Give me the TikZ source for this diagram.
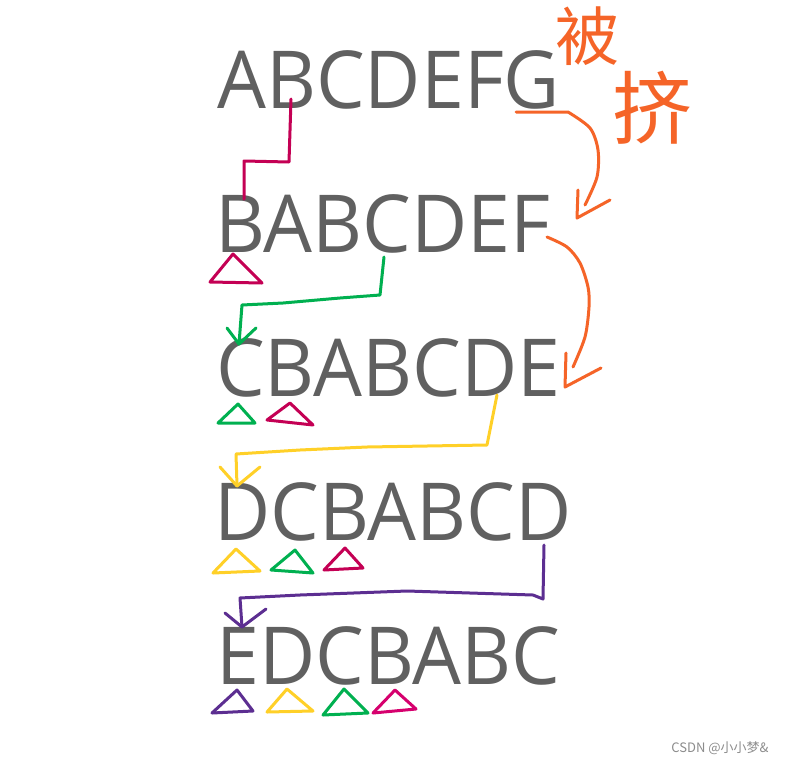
\documentclass[tikz,border=0pt]{standalone}
\usepackage{fontspec}
\setmainfont[FakeStretch=0.965]{Open Sans}
\newfontfamily\cjk{Noto Sans CJK SC}
\usepackage{tikz}
\usetikzlibrary{arrows.meta}
\usepackage{xcolor}
\definecolor{letter}{RGB}{96, 96, 96}
\definecolor{crimson}{RGB}{196, 0, 84}
\definecolor{leaf}{RGB}{0, 176, 80}
\definecolor{sun}{RGB}{255, 208, 40}
\definecolor{grape}{RGB}{92, 46, 145}
\definecolor{carrot}{RGB}{245, 100, 40}
\definecolor{rose}{RGB}{214, 0, 110}
\definecolor{mark}{RGB}{140, 140, 140}

\begin{document}
\begin{tikzpicture}
        [x=1pt, y=-1pt,
        letters/.style = {text=letter, font=\fontsize{80}{96}\selectfont, inner sep=0pt, anchor=base west},
        pen/.style = {draw=#1, line width=3pt, line cap=round, line join=round},
        scrawl/.style = {text=carrot, inner sep=0pt, font=\cjk\fontsize{#1}{#1}\selectfont}]
        \fill[white] (0,0) rectangle (795,766);
        \useasboundingbox (0,0) rectangle (795,766);

        \node[letters] (row1) at (217,108) {ABCDEFG};
        \node[letters] (row2) at (215,252) {BABCDEF};
        \node[letters] (row3) at (216,396) {CBABCDE};
        \node[letters] (row4) at (214,540) {DCBABCD};
        \node[letters] (row5) at (216,684) {EDCBABC};

        \node[scrawl=64] (bei) at (587,36) {被};
        \node[scrawl=80] (ji) at (652,108) {挤};

        \node[text=mark, inner sep=0pt, font=\cjk\fontsize{13}{13}\selectfont] (credit) at (720,748) {CSDN @小小梦\&};

        % ends of the hand drawn lines
        \coordinate (a1) at (291,99);
        \coordinate (a2) at (244,199);
        \coordinate (b1) at (384,257);
        \coordinate (b2) at (239,344);
        \coordinate (c1) at (497,395);
        \coordinate (c2) at (237,486);
        \coordinate (d1) at (544,545);
        \coordinate (d2) at (242,627);
        \coordinate (e1) at (516,112);
        \coordinate (e2) at (585,205);
        \coordinate (f1) at (547,237);
        \coordinate (f2) at (573,367);

        \draw[pen=crimson] (a1) -- (289,162) -- (244,161) -- (a2);

        \draw[pen=leaf] (b1) -- (380,295) -- (340,298) -- (283,303) -- (242,305) -- (b2);
        \draw[pen=leaf] (227,328) -- (b2) -- (256,328);

        \draw[pen=sun] (c1) -- (487,445) -- (367,447) -- (300,450) -- (236,454) -- (c2);
        \draw[pen=sun] (220,467) -- (c2) -- (260,467);

        \draw[pen=grape] (d1) -- (543,599) -- (533,595) -- (407,591) -- (300,595) -- (240,598) -- (d2);
        \draw[pen=grape] (225,613) -- (d2) -- (266,609);

        \draw[pen=carrot] (e1) -- plot[smooth] coordinates {(568,112) (590,128) (598,150) (597,177) (e2)};
        \draw[pen=carrot] (578,190) -- (577,218) -- (610,200);

        \draw[pen=carrot] plot[smooth] coordinates {(f1) (567,247) (580,263) (588,287) (589,307) (585,337) (f2)};
        \draw[pen=carrot] (566,353) -- (565,387) -- (601,368);

        % stacked marks under the rows
        \draw[pen=crimson] (210,282) -- (233,254) -- (262,283) -- cycle;

        \draw[pen=leaf] (218,423) -- (238,404) -- (255,423) -- cycle;
        \draw[pen=crimson] (267,420) -- (290,403) -- (313,425) -- cycle;

        \draw[pen=sun] (213,573) -- (236,549) -- (260,571) -- cycle;
        \draw[pen=leaf] (271,570) -- (295,550) -- (313,573) -- cycle;
        \draw[pen=crimson] (324,570) -- (345,548) -- (363,568) -- cycle;

        \draw[pen=grape] (212,713) -- (237,690) -- (253,711) -- cycle;
        \draw[pen=sun] (267,712) -- (287,689) -- (313,711) -- cycle;
        \draw[pen=leaf] (323,715) -- (344,689) -- (368,713) -- cycle;
        \draw[pen=rose] (373,713) -- (395,690) -- (416,709) -- cycle;
    \end{tikzpicture}
\end{document}
